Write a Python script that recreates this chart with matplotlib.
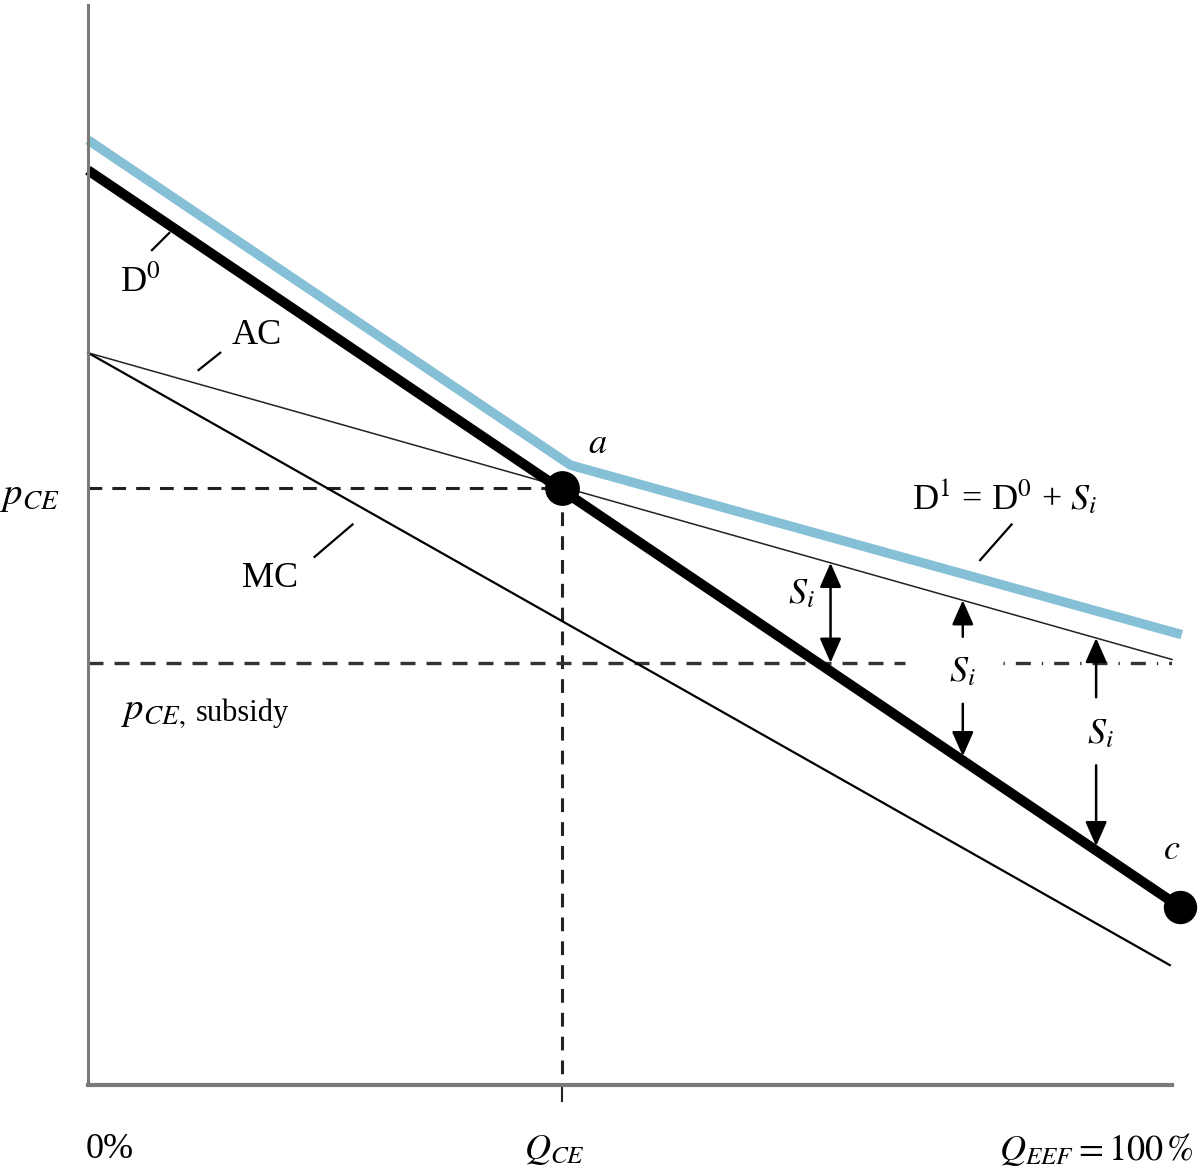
import numpy as np
import matplotlib.pyplot as plt

plt.rcParams['font.family'] = ['Liberation Serif', 'DejaVu Serif']
plt.rcParams['mathtext.fontset'] = 'stix'

# quantity (% of EEF) and price, in diagram units
d0_q = [0, 100.7]
d0_p = [84.7, 16.5]
d1_q = [0, 44.5, 100.9]
d1_p = [87.5, 57.4, 41.7]
ac_q = [0, 100]
ac_p = [67.8, 39.4]
mc_q = [0, 99.8]
mc_p = [67.8, 11.1]

q_ce = 43.7
p_ce = 55.3
p_sub = 39.1
c_point = (100.7, 16.5)

# subsidy arrows: x position, and gaps (label space) on the way down
arrow_q = [68.5, 80.7, 93.0]
arrow_gap = [None, (41.5, 35.3), (35.9, 29.6)]


def on_line(qs, ps, q):
    return np.interp(q, qs, ps)


fig = plt.figure(figsize=(12, 11.7), dpi=100)
ax = fig.add_axes([88 / 1200, 85 / 1170, 1084 / 1200, 1080 / 1170])
ax.set_xlim(0, 100)
ax.set_ylim(0, 100)
ax.set_xticks([])
ax.set_yticks([])
for s in ['top', 'right']:
    ax.spines[s].set_visible(False)
ax.spines['left'].set_color('#7a7a7a')
ax.spines['left'].set_linewidth(2.2)
ax.spines['bottom'].set_color('#7a7a7a')
ax.spines['bottom'].set_linewidth(3)

dash = (4.5, 3.3)
# dashed guides
ax.plot([0, q_ce], [p_ce, p_ce], color='#222222', lw=2.2, dashes=dash)
ax.plot([q_ce, q_ce], [p_ce, 0], color='#222222', lw=2.2, dashes=dash)
ax.plot([q_ce, q_ce], [0, -1.5], color='#222222', lw=1.5, clip_on=False)
ax.plot([0, 75.4], [p_sub, p_sub], color='#333333', lw=2.4, dashes=dash)
ax.plot([84.4, 100], [p_sub, p_sub], color='#333333', lw=2.4, dashes=(0.4, 3.3, 4.5, 3.3))

# curves
ax.plot(mc_q, mc_p, color='black', lw=1.6, clip_on=False)
ax.plot(ac_q, ac_p, color='#222222', lw=1.1, clip_on=False)
ax.plot(d1_q, d1_p, color='#86c0d6', lw=6.8, solid_joinstyle='miter',
        solid_capstyle='butt', clip_on=False)
ax.plot(d0_q, d0_p, color='black', lw=7.2, solid_capstyle='butt', clip_on=False)
ax.plot([q_ce], [p_ce], 'o', color='black', ms=24, clip_on=False)
ax.plot([c_point[0]], [c_point[1]], 'o', color='black', ms=23, clip_on=False)

# subsidy arrows
aprops = dict(arrowstyle='-|>,head_length=0.5,head_width=0.22', color='black',
              lw=1.8, mutation_scale=30, shrinkA=0, shrinkB=0)
for q, gap in zip(arrow_q, arrow_gap):
    top = on_line(ac_q, ac_p, q)
    if gap is None:
        bottom = p_sub
        ax.annotate('', xy=(q, top), xytext=(q, bottom),
                    arrowprops=dict(aprops, arrowstyle='<|-|>,head_length=0.5,head_width=0.22'))
    else:
        bottom = on_line(d0_q, d0_p, q) + 0.4
        ax.annotate('', xy=(q, top), xytext=(q, gap[0]), arrowprops=aprops)
        ax.annotate('', xy=(q, bottom), xytext=(q, gap[1]), arrowprops=aprops)

# leader lines
leaders = [((5.9, 77.3), (7.5, 78.9)), ((10.2, 66.2), (12.2, 67.8)),
           ((20.9, 48.9), (24.4, 51.9)), ((82.3, 48.6), (85.2, 51.9))]
for (x0, y0), (x1, y1) in leaders:
    ax.plot([x0, x1], [y0, y1], color='black', lw=1.6)

fs = 26
ax.text(4.8, 74.3, r'D$^0$', fontsize=fs, ha='center', va='center')
ax.text(15.6, 69.4, 'AC', fontsize=fs, ha='center', va='center')
ax.text(16.8, 46.9, 'MC', fontsize=fs, ha='center', va='center')
ax.text(-8.1, 54.6, r'$p_{CE}$', fontsize=fs + 2, ha='left', va='center')
ax.text(3.0, 34.6, r'$p_{CE,}$', fontsize=fs + 2, ha='left', va='center')
ax.text(9.9, 33.7, 'subsidy', fontsize=22, ha='left', va='baseline')
ax.text(84.6, 54.4, r'D$^1$ = D$^0$ + $S_i$', fontsize=fs, ha='center', va='center')
ax.text(47.0, 59.3, r'$a$', fontsize=fs, ha='center', va='center')
ax.text(100.0, 21.7, r'$c$', fontsize=fs, ha='center', va='center')
ax.text(65.8, 45.4, r'$S_i$', fontsize=fs, ha='center', va='center')
ax.text(80.7, 38.2, r'$S_i$', fontsize=fs, ha='center', va='center')
ax.text(93.4, 32.4, r'$S_i$', fontsize=fs, ha='center', va='center')

ax.text(2.0, -6.0, '0%', fontsize=fs, ha='center', va='center')
ax.text(43.0, -6.0, r'$Q_{CE}$', fontsize=fs, ha='center', va='center')
ax.text(93.0, -6.0, r'$Q_{EEF} = 100\,\%$', fontsize=fs, ha='center', va='center')

fig.savefig('out.png', dpi=100)
